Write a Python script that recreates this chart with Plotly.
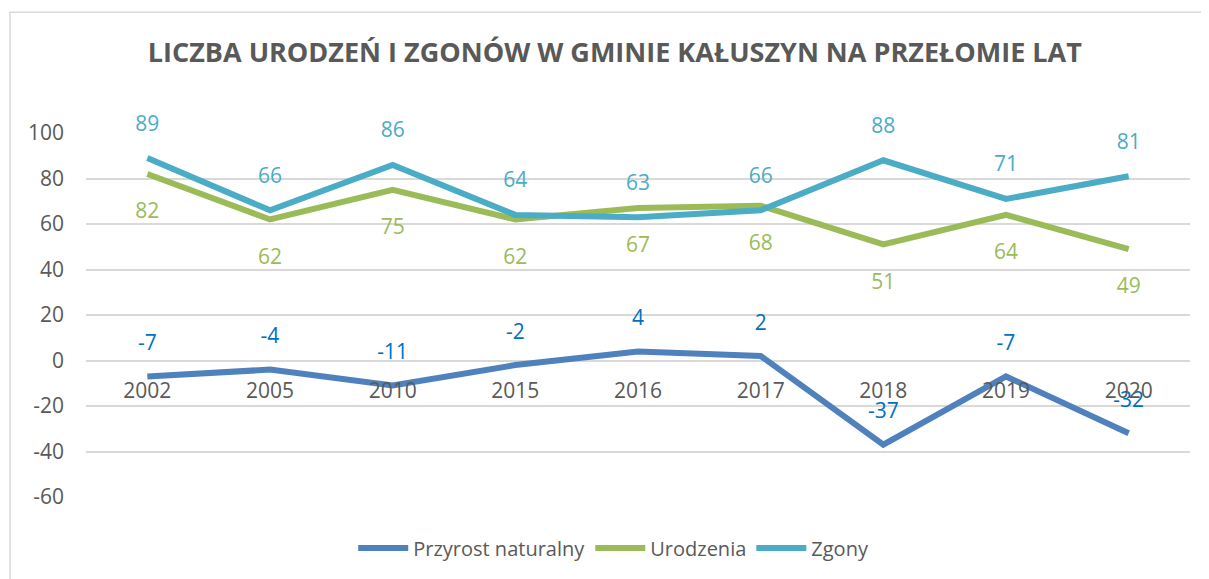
import plotly.graph_objects as go

# ---- data ---- #
years = ['2002', '2005', '2010', '2015', '2016', '2017', '2018', '2019', '2020']
przyrost = [-7, -4, -11, -2, 4, 2, -37, -7, -32]
urodzenia = [82, 62, 75, 62, 67, 68, 51, 64, 49]
zgony = [89, 66, 86, 64, 63, 66, 88, 71, 81]
y_ticks = [-60, -40, -20, 0, 20, 40, 60, 80, 100]

# ---- styling ---- #
font_name = 'Open Sans'
grey = '#595959'
fig = go.Figure()

series = [
    ('Przyrost naturalny', przyrost, '#4F81BD', '#0070C0', 'top center', 32),
    ('Urodzenia', urodzenia, '#9BBB59', '#9BBB59', 'bottom center', 44),
    ('Zgony', zgony, '#4BACC6', '#4BACC6', 'top center', 34),
]

for name, vals, line_col, lab_col, pos, msize in series:
    fig.add_trace(go.Scatter(
        name=name, x=years, y=vals, mode='lines+markers+text',
        line=dict(color=line_col, width=6),
        marker=dict(size=msize, color='rgba(0,0,0,0)'),
        text=[str(v) for v in vals], textposition=pos,
        textfont=dict(color=lab_col, size=21, family=font_name),
        cliponaxis=False, hoverinfo='x+y'))

# Plot configuration (page body adds an 8px offset, so the figure is 8px smaller)
fig.update_layout(
    width=1201, height=571, paper_bgcolor='white', plot_bgcolor='white',
    margin=dict(l=78, r=19, t=125, b=82, autoexpand=False),
    font=dict(family=font_name, color=grey, size=20),
    title=dict(text='<b>LICZBA URODZEŃ I ZGONÓW W GMINIE KAŁUSZYN NA PRZEŁOMIE LAT</b>',
               x=0.479, xref='paper', xanchor='center', y=1 - 45 / 571, yanchor='middle',
               font=dict(size=27, color=grey, family=font_name)),
    legend=dict(orientation='h', x=0.478, xanchor='center', y=-0.14, yanchor='middle',
                font=dict(size=20, color=grey), itemwidth=50),
    showlegend=True)

fig.update_yaxes(range=[-60, 100], tickvals=y_ticks, ticktext=[str(v) for v in y_ticks],
                 showgrid=True, gridcolor='#D9D9D9', gridwidth=1.5,
                 zeroline=False, showline=False, ticks='', tickfont=dict(size=21, color=grey),
                 ticklabelstandoff=21, automargin=False)
fig.update_xaxes(type='category', range=[-0.5, 8.5], showgrid=False, showline=False, ticks='',
                 anchor='free', position=(0 - -60) / 160, tickfont=dict(size=21, color=grey),
                 ticklabelstandoff=15, zeroline=False, automargin=False)

# outer chart frame
fig.add_shape(type='rect', xref='paper', yref='paper', x0=-0.0688, x1=1.03, y0=-0.26, y1=1.332,
              line=dict(color='#D9D9D9', width=1.5), layer='below')

fig.write_html('out.html')
